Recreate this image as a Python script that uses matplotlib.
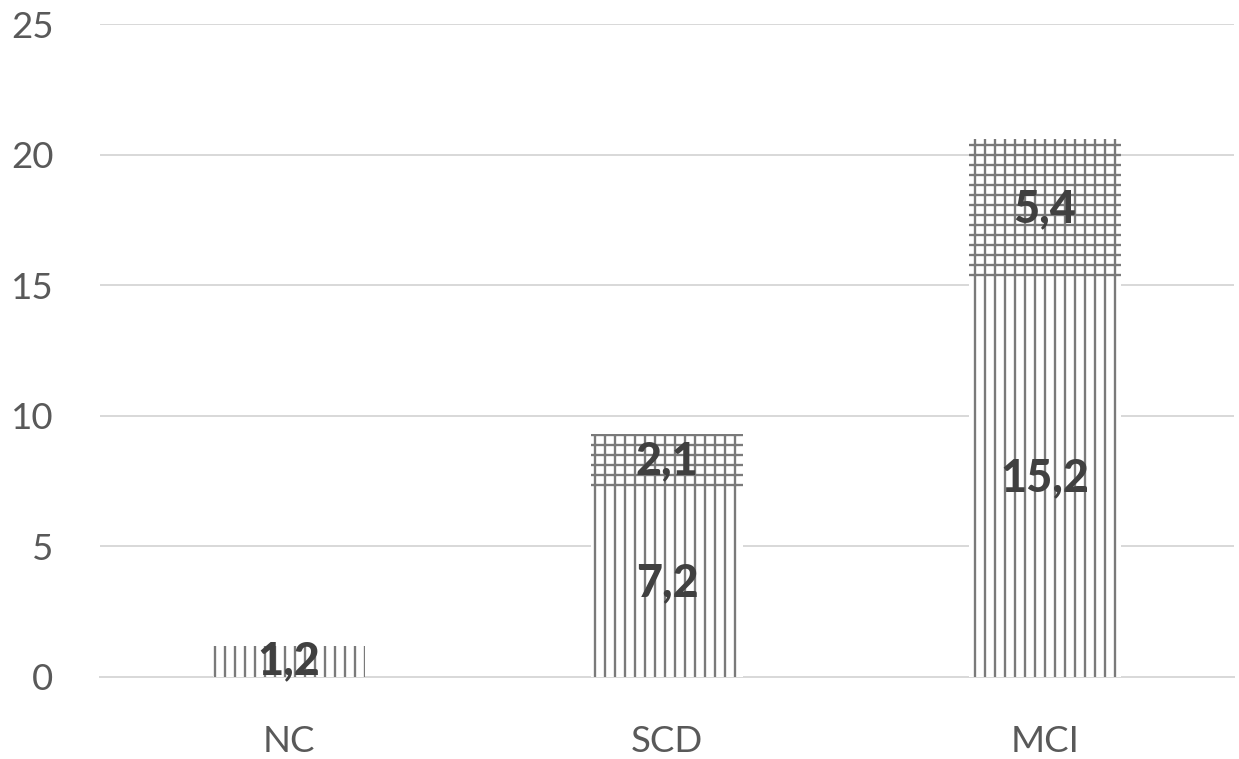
import matplotlib
matplotlib.use("Agg")
import matplotlib.pyplot as plt
import numpy as np

categories = ["NC", "SCD", "MCI"]
series_lower = [1.2, 7.2, 15.2]
series_upper = [0.0, 2.1, 5.4]
yticks = [0, 5, 10, 15, 20, 25]

DPI = 120
plt.rcParams['font.family'] = ['Lato', 'DejaVu Sans']
plt.rcParams['hatch.linewidth'] = 1.4

fig = plt.figure(figsize=(1239 / DPI, 759 / DPI), dpi=DPI)
ax = fig.add_axes([100 / 1239, 82 / 759, 1134 / 1239, (677 - 24) / 759])

x = np.arange(len(categories))
w = 0.4
hatch_col = "#7a7a7a"
b1 = ax.bar(x, series_lower, width=w, color="white", edgecolor=hatch_col,
            linewidth=0, hatch="||", zorder=3)
b2 = ax.bar(x, series_upper, width=w, bottom=series_lower, color="white",
            edgecolor=hatch_col, linewidth=0, hatch="++", zorder=3)

def fmt(v):
    return f"{v:.1f}".replace(".", ",")

for xi, lo, up in zip(x, series_lower, series_upper):
    if lo > 0:
        ax.text(xi, lo / 2, fmt(lo), ha="center", va="center", fontsize=27,
                fontweight="black", color="#404040", zorder=5)
    if up > 0:
        ax.text(xi, lo + up / 2, fmt(up), ha="center", va="center", fontsize=27,
                fontweight="black", color="#404040", zorder=5)

ax.set_xlim(-0.5, 2.5)
ax.set_ylim(0, 25)
ax.set_yticks(yticks)
ax.set_yticklabels([str(t) for t in yticks])
ax.set_xticks(x)
ax.set_xticklabels(categories)
ax.yaxis.grid(True, color="#d9d9d9", linewidth=1.2, zorder=0)
ax.set_axisbelow(True)
for s in ["top", "right", "left"]:
    ax.spines[s].set_visible(False)
ax.spines["bottom"].set_color("#d9d9d9")
ax.spines["bottom"].set_linewidth(1.2)
ax.tick_params(axis="both", length=0, labelsize=22, labelcolor="#595959")
ax.tick_params(axis="y", pad=28)
ax.tick_params(axis="x", pad=29)

fig.savefig("out.png", dpi=DPI)
